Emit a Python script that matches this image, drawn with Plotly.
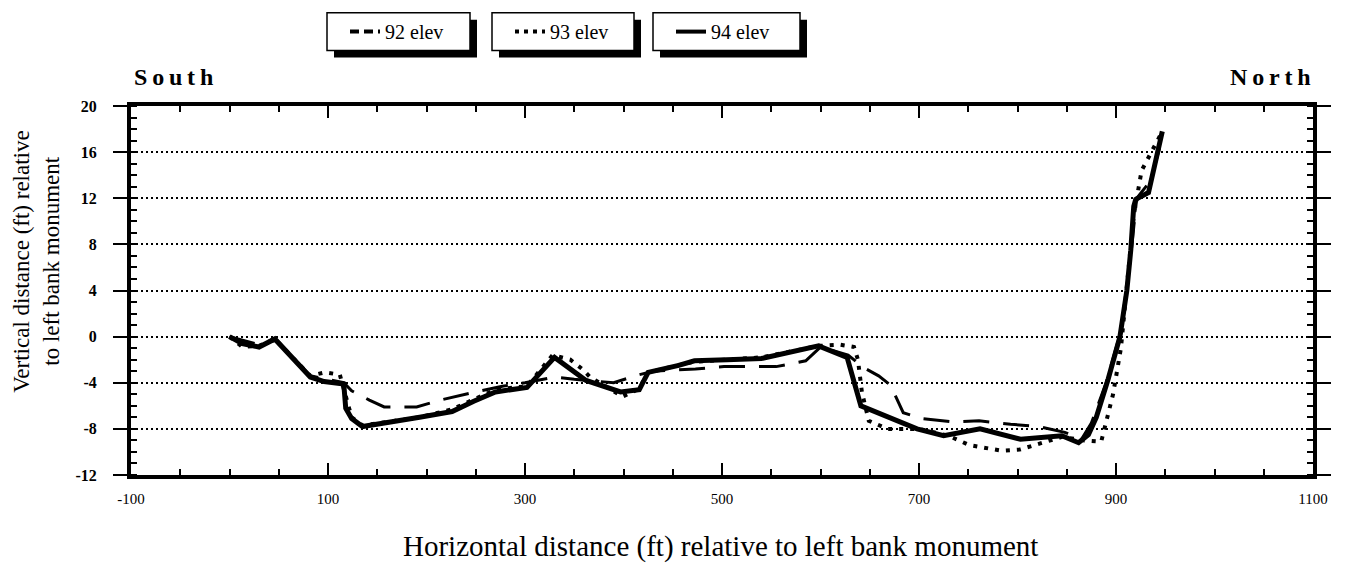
import plotly.graph_objects as go

# Cross-section survey: horizontal distance (ft) vs vertical distance (ft)
dist_92 = [0, 30, 48, 82, 116, 124, 142, 157, 190, 214, 250, 277, 300, 330, 350,
           390, 416, 430, 473, 502, 531, 555, 585, 600, 628, 644, 659, 671, 684,
           703, 735, 761, 793, 822, 848, 865, 875, 890, 905, 915, 921, 935, 948]
elev_92 = [0.0, -0.7, -0.3, -3.4, -4.0, -4.7, -5.5, -6.1, -6.1, -5.5, -4.8, -4.3,
           -4.0, -3.5, -3.7, -4.0, -3.3, -3.0, -2.8, -2.6, -2.6, -2.6, -2.1, -0.9,
           -1.6, -2.7, -3.4, -4.2, -6.6, -7.1, -7.4, -7.3, -7.6, -7.8, -8.3, -8.9,
           -7.5, -4.0, 0.5, 7.0, 12.0, 13.5, 17.5]

dist_93 = [0, 13, 30, 46, 82, 97, 112, 118, 124, 135, 193, 226, 270, 302, 328,
           346, 358, 366, 380, 399, 416, 425, 470, 540, 598, 620, 634, 638, 642,
           649, 668, 700, 730, 751, 784, 802, 845, 868, 885, 890, 897, 905, 910,
           914, 918, 926, 947]
elev_93 = [0.0, -0.9, -0.8, -0.2, -3.4, -3.1, -3.3, -5.0, -7.0, -7.7, -7.0, -6.3,
           -4.6, -4.3, -1.6, -2.0, -2.8, -3.5, -4.2, -5.2, -4.5, -3.1, -2.2, -1.8,
           -0.8, -0.7, -0.9, -2.0, -4.8, -7.3, -8.0, -8.0, -8.6, -9.4, -9.9, -9.8,
           -8.7, -9.0, -9.1, -7.5, -5.0, -1.0, 3.0, 7.0, 10.5, 14.4, 17.8]

dist_94 = [0, 13, 30, 46, 82, 96, 116, 118, 124, 135, 193, 226, 248, 270, 302,
           330, 362, 397, 416, 425, 456, 472, 505, 540, 598, 627, 641, 681, 698,
           725, 762, 803, 845, 862, 872, 880, 892, 904, 911, 915, 918, 920, 933, 947]
elev_94 = [0.0, -0.6, -0.9, -0.2, -3.5, -3.9, -4.1, -6.2, -7.1, -7.8, -7.0, -6.5,
           -5.6, -4.8, -4.4, -1.8, -3.8, -4.8, -4.6, -3.1, -2.5, -2.1, -2.0, -1.9,
           -0.8, -1.8, -6.0, -7.4, -8.0, -8.6, -8.0, -8.9, -8.6, -9.2, -8.5, -7.0,
           -3.7, 0.0, 4.0, 7.5, 11.3, 11.9, 12.5, 17.8]

series_names = ["92 elev", "93 elev", "94 elev"]
x_ticks = [-100, 100, 300, 500, 700, 900, 1100]
y_ticks = [20, 16, 12, 8, 4, 0, -4, -8, -12]

SERIF = "Liberation Serif"

# plot-area frame in pixels, used to place boxes and labels in paper units
W, H = 1348, 567
L, R, T, B = 131, 1313, 103, 475


def px_x(px):
    return (px - L) / (R - L)


def px_y(py):
    return (B - py) / (B - T)


fig = go.Figure()

styles = [
    dict(color="black", width=3, dash="26px,14px"),
    dict(color="black", width=4, dash="4px,7px"),
    dict(color="black", width=5, dash="solid"),
]
legend_styles = [
    dict(color="black", width=4, dash="9px,5px"),
    dict(color="black", width=4, dash="4px,5px"),
    dict(color="black", width=4, dash="solid"),
]

for xs, ys, name, st in zip([dist_92, dist_93, dist_94],
                            [elev_92, elev_93, elev_94], series_names, styles):
    fig.add_trace(go.Scatter(x=xs, y=ys, mode="lines", name=name, line=st,
                             showlegend=False, hoverinfo="x+y+name"))

# one framed legend per survey year
legend_ids = ["legend", "legend2", "legend3"]
box_left = [327, 492, 653]
box_right = [470, 634, 800]
for name, st, lid in zip(series_names, legend_styles, legend_ids):
    fig.add_trace(go.Scatter(x=[None], y=[None], mode="lines", name=name,
                             line=st, legend=lid, showlegend=True))

shapes = []
box_top, box_bot, shadow = 9, 47, 7
for bl, br in zip(box_left, box_right):
    shapes.append(dict(type="rect", xref="paper", yref="paper",
                       x0=px_x(bl + shadow), x1=px_x(br + shadow),
                       y0=px_y(box_bot + shadow), y1=px_y(box_top + shadow),
                       fillcolor="black", line=dict(width=0)))
    shapes.append(dict(type="rect", xref="paper", yref="paper",
                       x0=px_x(bl), x1=px_x(br), y0=px_y(box_bot), y1=px_y(box_top),
                       fillcolor="white", line=dict(color="black", width=1.5)))

legend_layout = {}
for lid, bl in zip(legend_ids, box_left):
    legend_layout[lid] = dict(
        x=px_x(bl + 18), y=px_y(28), xanchor="left", yanchor="middle",
        bgcolor="rgba(0,0,0,0)", borderwidth=0,
        font=dict(family=SERIF, size=20, color="black"),
    )

annotations = [
    dict(text="S\u2009o\u2009u\u2009t\u2009h", x=px_x(132), y=px_y(74),
         xref="paper", yref="paper", xanchor="left", yanchor="middle",
         showarrow=False, font=dict(family=SERIF, size=24, color="black", weight="bold")),
    dict(text="N\u2009o\u2009r\u2009t\u2009h", x=1.0, y=px_y(74),
         xref="paper", yref="paper", xanchor="right", yanchor="middle",
         showarrow=False, font=dict(family=SERIF, size=24, color="black", weight="bold")),
    dict(text="Vertical distance (ft) relative", x=px_x(22), y=px_y(260),
         xref="paper", yref="paper", xanchor="center", yanchor="middle",
         textangle=-90, showarrow=False,
         font=dict(family=SERIF, size=23, color="black")),
    dict(text="to left bank monument", x=px_x(52), y=px_y(260),
         xref="paper", yref="paper", xanchor="center", yanchor="middle",
         textangle=-90, showarrow=False,
         font=dict(family=SERIF, size=23, color="black")),
    dict(text="Horizontal distance (ft) relative to left bank monument",
         x=px_x(720), y=px_y(547), xref="paper", yref="paper",
         xanchor="center", yanchor="middle", showarrow=False,
         font=dict(family=SERIF, size=29, color="black")),
]

fig.update_layout(
    width=W, height=H, autosize=False,
    margin=dict(l=L, r=W - R, t=T, b=H - B),
    paper_bgcolor="white", plot_bgcolor="white",
    shapes=shapes, annotations=annotations,
    **legend_layout,
    xaxis=dict(
        range=[-100, 1100], tickmode="array", tickvals=x_ticks,
        ticktext=[str(v) for v in x_ticks],
        showline=True, linecolor="black", linewidth=4, mirror="ticks",
        ticks="inside", ticklen=12, tickwidth=2, tickcolor="black",
        minor=dict(ticks="inside", dtick=50, tick0=-100, ticklen=6, tickwidth=1.5,
                   tickcolor="black"),
        showgrid=False, zeroline=False, ticklabelstandoff=7,
        tickfont=dict(family=SERIF, size=15, color="black"),
    ),
    yaxis=dict(
        range=[-12, 20], tickmode="array", tickvals=y_ticks,
        ticktext=[str(v) for v in y_ticks],
        showline=True, linecolor="black", linewidth=4, mirror="ticks",
        ticks="outside", ticklen=14, tickwidth=2, tickcolor="black",
        minor=dict(ticks="inside", dtick=1, tick0=0, ticklen=6, tickwidth=1.5,
                   tickcolor="black", showgrid=False),
        showgrid=True, gridcolor="black", gridwidth=1.5, griddash="2px,3px",
        zeroline=False, ticklabelstandoff=13,
        tickfont=dict(family=SERIF, size=16, color="black", weight="bold"),
    ),
    # right-hand frame: major ticks also reach into the plot
    yaxis2=dict(overlaying="y", side="right", anchor="x", range=[-12, 20],
                tickmode="array", tickvals=y_ticks, showticklabels=False,
                ticks="inside", ticklen=14, tickwidth=2, tickcolor="black",
                showgrid=False, zeroline=False, showline=False),
)

fig.write_html("out.html")
